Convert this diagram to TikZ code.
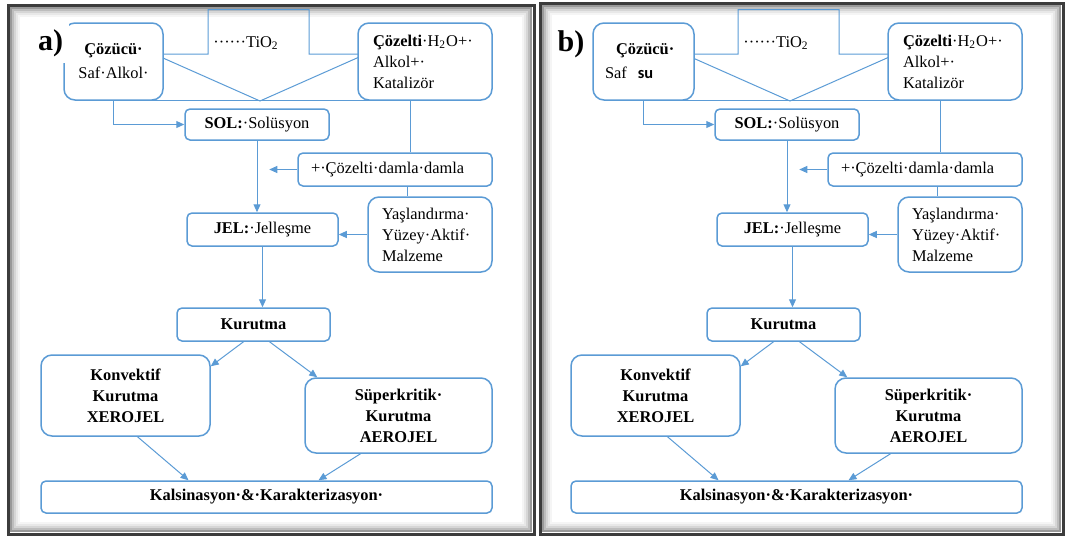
\documentclass[tikz,border=0pt]{standalone}
\usepackage{fontspec}
\setmainfont{Liberation Serif}
\newfontfamily\timesfont{Liberation Serif}
\newfontfamily\calibri{Carlito}
\usetikzlibrary{arrows.meta}
\definecolor{boxblue}{RGB}{91,155,213}
\definecolor{framegray}{RGB}{60,60,60}

\begin{document}
\begin{tikzpicture}[
        x=0.5pt, y=-0.5pt,
        font=\timesfont\fontsize{8.2}{10.5}\selectfont,
        box/.style={draw=boxblue, line width=0.75pt, fill=white, rounded corners=2.5pt, inner sep=0pt},
        bigbox/.style={box, rounded corners=5.5pt},
        bold/.style={font=\timesfont\fontsize{8.2}{10.5}\selectfont\bfseries},
        link/.style={boxblue, line width=0.5pt},
        arrow/.style={link, -{Triangle[length=4pt, width=3.5pt]}},
        frame/.style={draw=framegray, line width=1.5pt},
        panellabel/.style={fill=white, inner sep=3pt, font=\timesfont\fontsize{15}{15}\selectfont\bfseries}
    ]

    \useasboundingbox (0,0) rectangle (1065,536);

    % ==========================================
    % FRAMES (dark edge + inner shadow)
    % ==========================================
    \draw[frame] (8,5) rectangle (534,534);
    \draw[frame] (540,3) rectangle (1063,534);
    \foreach \d/\c in {3/40,5/26,7/16,9/9,11/4}{
        \draw[black!\c, line width=1pt] (8+\d,5+\d) rectangle (534-\d,534-\d);
        \draw[black!\c, line width=1pt] (540+\d,3+\d) rectangle (1063-\d,534-\d);
    }

    % ==========================================
    % PANEL a: Saf Alkol
    % ==========================================
    \begin{scope}
        % TiO2 block arrow
        \draw[link] (208,9.5) -- (309,9.5) -- (309,54) -- (366,54) -- (260,101) -- (154,54) -- (208,54) -- cycle;
        \node (tio) at (246,43) {······TiO\textsubscript{2}};

        \node[bigbox, minimum width=49.5pt, minimum height=38.5pt, align=center] (solvent) at (113.5,61.5) {\textbf{Çözücü·}\\[1.5pt] Saf·Alkol·};
        \node[bigbox, text width=52pt, inner xsep=7.5pt, minimum height=38.5pt, align=left] (mix) at (425,61.5) {\textbf{Çözelti}·H\textsubscript{2}O+·\\ Alkol+·\\ Katalizör};
        \node[box, minimum width=72pt, minimum height=15.5pt] (sol) at (257,124.5) {\textbf{SOL:}·Solüsyon};
        \node[box, text width=84pt, inner xsep=6.5pt, minimum height=16.5pt, align=left] (drop) at (395,169.5) {+·Çözelti·damla·damla};
        \node[bigbox, text width=48pt, inner xsep=7pt, minimum height=37.5pt, align=left] (aging) at (430,234.5) {Yaşlandırma·\\ Yüzey·Aktif·\\ Malzeme};
        \node[box, minimum width=75.5pt, minimum height=16.5pt] (gel) at (262.5,229.5) {\textbf{JEL:}·Jelleşme};
        \node[box, bold, minimum width=76.5pt, minimum height=16.5pt] (dry) at (253.5,324.5) {Kurutma};
        \node[bigbox, bold, minimum width=84.5pt, minimum height=40.5pt, align=center] (xero) at (125.5,395.5) {Konvektif\\ Kurutma\\ XEROJEL};
        \node[bigbox, bold, minimum width=93.5pt, minimum height=37.5pt, align=center] (aero) at (398.5,415.5) {Süperkritik·\\ Kurutma\\ AEROJEL};
        \node[box, bold, minimum width=225.5pt, minimum height=16pt] (calc) at (266.5,497) {Kalsinasyon·\&·Karakterizasyon·};

        % connectors
        \coordinate (mixfoot) at ([xshift=8pt]mix.south west);
        \draw[link] ([xshift=-8pt]solvent.south east) -- (solvent.south -| mixfoot);
        \draw[arrow] (solvent.south) |- (sol.west);
        \coordinate (mixdrop) at ([xshift=-7.5pt]mix.south);
        \draw[link] (mixdrop) -- (mixdrop |- drop.north);
        \coordinate (dropend) at ([xshift=-14pt]drop.west);
        \draw[arrow] (drop.west) -- (dropend);
        \draw[arrow] (sol.south) -- (sol.south |- gel.north);
        \coordinate (dropfoot) at ([xshift=6pt]drop.south);
        \draw[link] (dropfoot) -- (dropfoot |- aging.north);
        \draw[arrow] (aging.west) -- (aging.west -| gel.east);
        \draw[arrow] (gel.south) -- (gel.south |- dry.north);
        \draw[arrow] ([xshift=-5pt]dry.south) -- ([yshift=-6pt]xero.north east);
        \draw[arrow] ([xshift=8pt]dry.south) -- ([xshift=6.5pt]aero.north west);
        \draw[arrow] ([xshift=6pt]xero.south) -- ([xshift=-39pt]calc.north);
        \draw[arrow] ([xshift=-19pt]aero.south) -- ([xshift=26pt]calc.north);

        \node[panellabel] (labela) at (50.5,43) {a)};
    \end{scope}

    % ==========================================
    % PANEL b: Saf su
    % ==========================================
    \begin{scope}[shift={(530,0)}]
        % TiO2 block arrow
        \draw[link] (208,9.5) -- (309,9.5) -- (309,54) -- (366,54) -- (260,101) -- (154,54) -- (208,54) -- cycle;
        \node (tio) at (246,43) {······TiO\textsubscript{2}};

        \node[bigbox, text width=38.5pt, inner xsep=6pt, minimum height=38.5pt, align=left] (solvent) at (113.5,61.5) {\hspace*{5.5pt}\textbf{Çözücü·}\\[1.5pt] Saf\ \ {\calibri\bfseries su}};
        \node[bigbox, text width=52pt, inner xsep=7.5pt, minimum height=38.5pt, align=left] (mix) at (425,61.5) {\textbf{Çözelti}·H\textsubscript{2}O+·\\ Alkol+·\\ Katalizör};
        \node[box, minimum width=72pt, minimum height=15.5pt] (sol) at (257,124.5) {\textbf{SOL:}·Solüsyon};
        \node[box, text width=84pt, inner xsep=6.5pt, minimum height=16.5pt, align=left] (drop) at (395,169.5) {+·Çözelti·damla·damla};
        \node[bigbox, text width=48pt, inner xsep=7pt, minimum height=37.5pt, align=left] (aging) at (430,234.5) {Yaşlandırma·\\ Yüzey·Aktif·\\ Malzeme};
        \node[box, minimum width=75.5pt, minimum height=16.5pt] (gel) at (262.5,229.5) {\textbf{JEL:}·Jelleşme};
        \node[box, bold, minimum width=76.5pt, minimum height=16.5pt] (dry) at (253.5,324.5) {Kurutma};
        \node[bigbox, bold, minimum width=84.5pt, minimum height=40.5pt, align=center] (xero) at (125.5,395.5) {Konvektif\\ Kurutma\\ XEROJEL};
        \node[bigbox, bold, minimum width=93.5pt, minimum height=37.5pt, align=center] (aero) at (398.5,415.5) {Süperkritik·\\ Kurutma\\ AEROJEL};
        \node[box, bold, minimum width=225.5pt, minimum height=16pt] (calc) at (266.5,497) {Kalsinasyon·\&·Karakterizasyon·};

        % connectors
        \coordinate (mixfoot) at ([xshift=8pt]mix.south west);
        \draw[link] ([xshift=-8pt]solvent.south east) -- (solvent.south -| mixfoot);
        \draw[arrow] (solvent.south) |- (sol.west);
        \coordinate (mixdrop) at ([xshift=-7.5pt]mix.south);
        \draw[link] (mixdrop) -- (mixdrop |- drop.north);
        \coordinate (dropend) at ([xshift=-14pt]drop.west);
        \draw[arrow] (drop.west) -- (dropend);
        \draw[arrow] (sol.south) -- (sol.south |- gel.north);
        \coordinate (dropfoot) at ([xshift=6pt]drop.south);
        \draw[link] (dropfoot) -- (dropfoot |- aging.north);
        \draw[arrow] (aging.west) -- (aging.west -| gel.east);
        \draw[arrow] (gel.south) -- (gel.south |- dry.north);
        \draw[arrow] ([xshift=-5pt]dry.south) -- ([yshift=-6pt]xero.north east);
        \draw[arrow] ([xshift=8pt]dry.south) -- ([xshift=6.5pt]aero.north west);
        \draw[arrow] ([xshift=6pt]xero.south) -- ([xshift=-39pt]calc.north);
        \draw[arrow] ([xshift=-19pt]aero.south) -- ([xshift=26pt]calc.north);

        \node[panellabel] (labelb) at (41,44) {b)};
    \end{scope}

\end{tikzpicture}
\end{document}
